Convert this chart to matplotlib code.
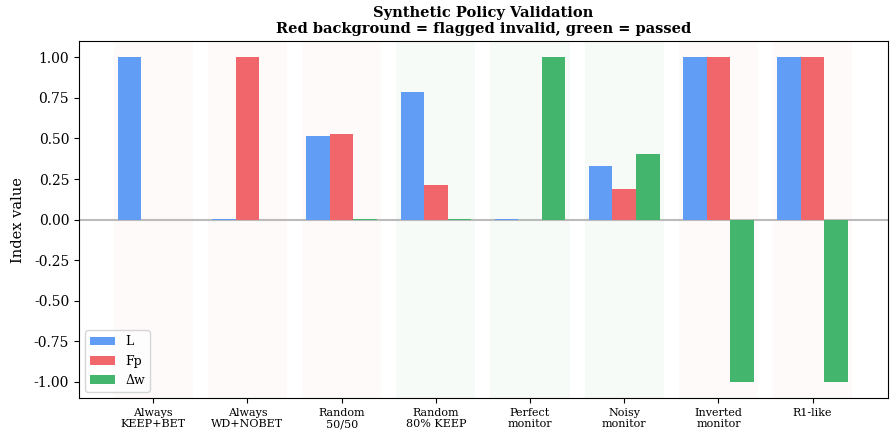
import numpy as np
import matplotlib
matplotlib.use("Agg")
from matplotlib import pyplot as plt

plt.rcParams['font.family'] = 'DejaVu Serif'

policies = ['Always\nKEEP+BET', 'Always\nWD+NOBET', 'Random\n50/50', 'Random\n80% KEEP',
            'Perfect\nmonitor', 'Noisy\nmonitor', 'Inverted\nmonitor', 'R1-like']
L_vals = [1.0, 0.005, 0.515, 0.784, 0.005, 0.333, 1.0, 1.0]
Fp_vals = [-0.005, 1.0, 0.53, 0.216, -0.005, 0.19, 1.0, 1.0]
dw_vals = [-0.005, -0.005, 0.005, 0.005, 1.0, 0.407, -1.0, -1.0]
passed = [False, False, False, True, True, True, False, False]

x = np.arange(len(policies))
w = 0.25

fig = plt.figure(figsize=(8.96, 4.37), dpi=100)
ax = fig.add_axes([0.088, 0.089, 0.903, 0.817])

for i, ok in enumerate(passed):
    if ok:
        ax.axvspan(i - 0.42, i + 0.42, color='#2ca02c', alpha=0.035, lw=0, zorder=0)
    else:
        ax.axvspan(i - 0.42, i + 0.42, color='#d62728', alpha=0.018, lw=0, zorder=0)

ax.bar(x - w, L_vals, w, color='#619cf5', label='L', zorder=2)
ax.bar(x, Fp_vals, w, color='#f0666a', label='Fp', zorder=2)
ax.bar(x + w, dw_vals, w, color='#43b56c', label='Δw', zorder=2)
ax.axhline(0, color='#bbbbbb', lw=1.5, zorder=1)

ax.set_xticks(x)
ax.set_xticklabels(policies, fontsize=8)
ax.set_xlim(-0.79, 7.8)
ax.set_ylim(-1.1, 1.1)
ax.set_yticks(np.arange(-1.0, 1.01, 0.25))
ax.set_yticklabels([f'{v:.2f}' for v in np.arange(-1.0, 1.01, 0.25)], fontsize=10)
ax.set_ylabel('Index value', fontsize=10.5, labelpad=6)
ax.set_title('Synthetic Policy Validation\nRed background = flagged invalid, green = passed',
             fontsize=10.5, fontweight='bold')
ax.legend(loc='lower left', fontsize=9)

fig.savefig('out.png', dpi=100)
